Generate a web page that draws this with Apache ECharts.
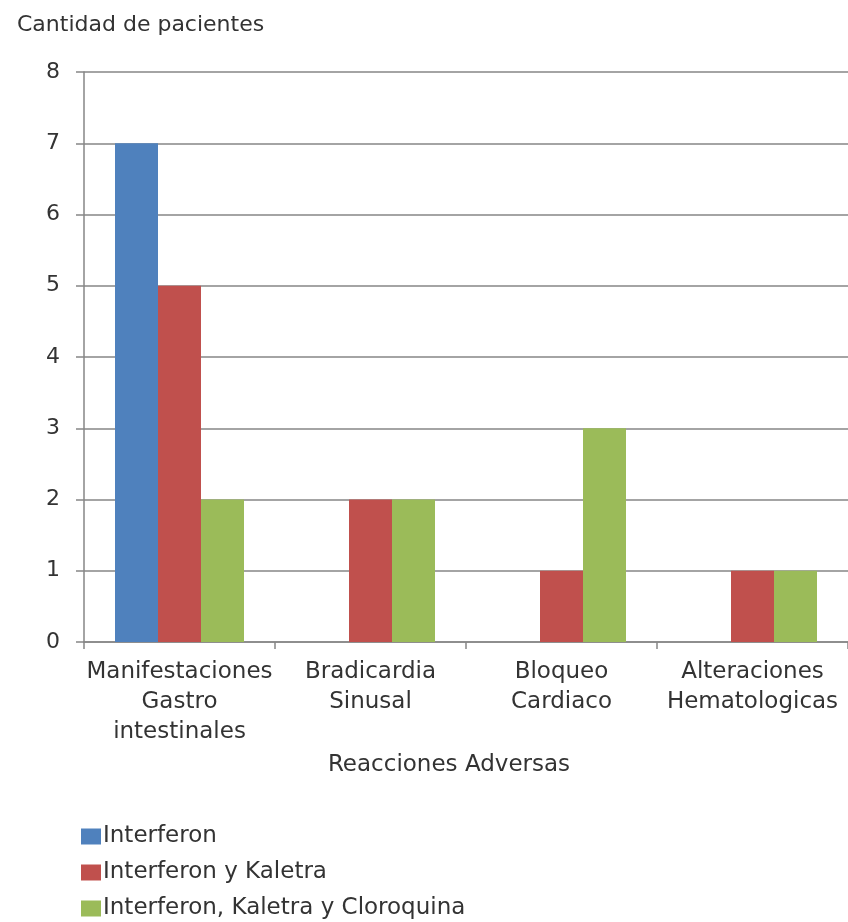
<!DOCTYPE html>
<html>
<head>
<meta charset="utf-8">
<script src="https://cdn.jsdelivr.net/npm/echarts@6/dist/echarts.min.js"></script>
<style>html,body{margin:0;padding:0;background:#fff;}#c{width:848px;height:922px;}</style>
</head>
<body>
<div id="c"></div>
<script>
var categories = ["Manifestaciones\nGastro\nintestinales", "Bradicardia\nSinusal", "Bloqueo\nCardiaco", "Alteraciones\nHematologicas"];
var seriesNames = ["Interferon", "Interferon y Kaletra", "Interferon, Kaletra y Cloroquina"];
var interferon = [7, 0, 0, 0];
var interferonKaletra = [5, 2, 1, 1];
var interferonKaletraCloroquina = [2, 2, 3, 1];
var yTicks = [0, 1, 2, 3, 4, 5, 6, 7, 8];

var FONT = "DejaVu Sans";
var TXT = "#333333";
var LINE = "#868686";
var colors = ["#4F81BD", "#C0504D", "#9BBB59"];
var values = [interferon, interferonKaletra, interferonKaletraCloroquina];

var chart = echarts.init(document.getElementById('c'), null, {renderer: 'canvas'});
chart.setOption({
  animation: false,
  backgroundColor: '#ffffff',
  title: {
    text: 'Cantidad de pacientes',
    left: 12, top: 9,
    textStyle: {fontFamily: FONT, fontSize: 22, fontWeight: 'normal', color: TXT}
  },
  legend: {
    orient: 'vertical',
    left: 76, top: 820, height: 200,
    itemWidth: 20, itemHeight: 16, itemGap: 13,
    icon: 'rect',
    textStyle: {fontFamily: FONT, fontSize: 23, color: TXT, padding: [0, 0, 0, -3]},
    data: seriesNames
  },
  grid: {left: 84, top: 72, width: 768, height: 570, containLabel: false},
  xAxis: {
    type: 'category',
    data: categories,
    name: 'Reacciones Adversas',
    nameLocation: 'middle',
    nameGap: 112,
    nameTextStyle: {fontFamily: FONT, fontSize: 23, color: TXT, padding: [0, 34, 0, 0]},
    axisLine: {lineStyle: {color: LINE, width: 1.5}},
    axisTick: {show: true, length: 7, lineStyle: {color: LINE, width: 1.5}},
    axisLabel: {fontFamily: FONT, fontSize: 23, color: TXT, lineHeight: 30, margin: 15, interval: 0}
  },
  yAxis: {
    type: 'value',
    min: yTicks[0], max: yTicks[yTicks.length - 1], interval: 1,
    axisLine: {show: true, lineStyle: {color: LINE, width: 1.5}},
    axisTick: {show: true, length: 8, lineStyle: {color: LINE, width: 1.5}},
    axisLabel: {fontFamily: FONT, fontSize: 22, color: TXT, margin: 24},
    splitLine: {show: true, lineStyle: {color: LINE, width: 1.5}}
  },
  series: seriesNames.map(function (n, i) {
    return {
      name: n, type: 'bar',
      data: values[i],
      barWidth: 43, barGap: '0%',
      itemStyle: {color: colors[i]}
    };
  })
});
</script>
</body>
</html>
